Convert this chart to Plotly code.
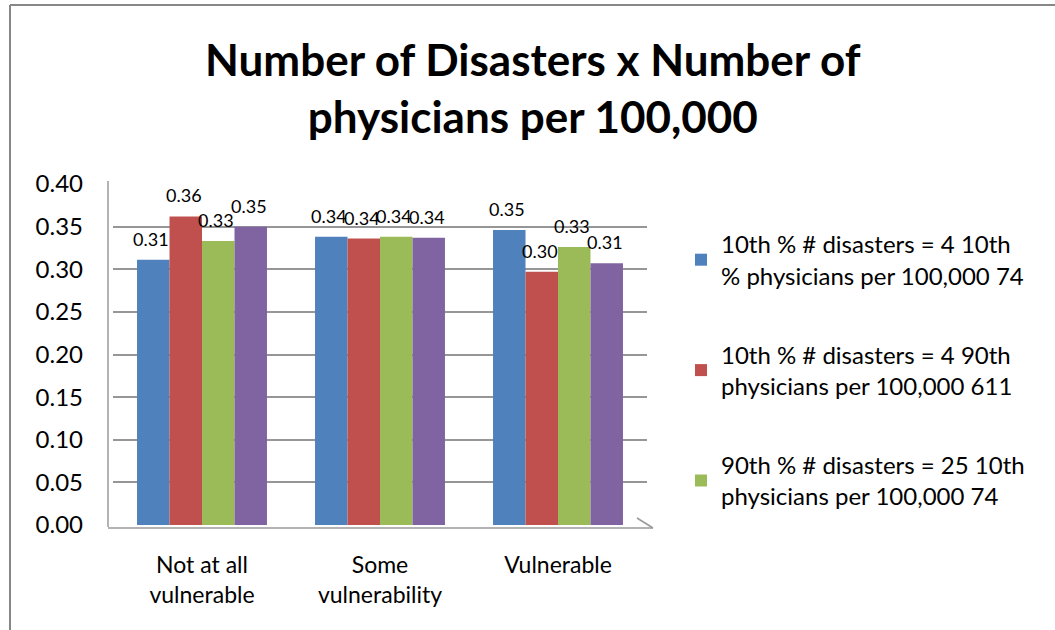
import plotly.graph_objects as go

categories = ["Not at all<br>vulnerable", "Some<br>vulnerability", "Vulnerable"]
series_names = [
    "10th % # disasters = 4 10th<br>% physicians per 100,000 74",
    "10th % # disasters = 4 90th<br>physicians per 100,000 611",
    "90th % # disasters = 25 10th<br>physicians per 100,000 74",
    "90th % # disasters = 25 90th<br>physicians per 100,000 611",
]
s1 = [0.311, 0.338, 0.346]
s2 = [0.362, 0.336, 0.297]
s3 = [0.333, 0.338, 0.326]
s4 = [0.350, 0.337, 0.307]
colors = ["#4F81BD", "#C0504D", "#9BBB59", "#8064A2"]
show_in_legend = [True, True, True, False]
y_ticks = [0.0, 0.05, 0.10, 0.15, 0.20, 0.25, 0.30, 0.35, 0.40]

FONT = "Lato, Carlito, Calibri, sans-serif"
W, H = 1055, 630
L, R, T, B = 113, 408, 184, 105
BARGAP = 0.27

fig = go.Figure()
all_series = [s1, s2, s3, s4]
for name, vals, col, sl in zip(series_names, all_series, colors, show_in_legend):
    fig.add_trace(go.Bar(
        x=categories, y=vals, name=name, marker=dict(color=col, line=dict(width=0)),
        cliponaxis=False, showlegend=sl, legendgroup=name,
    ))

pw = W - L - R
ph = H - T - B
def px_x(px):
    return (px - L) / pw
def px_y(py):
    return (H - B - py) / ph

# data labels placed above each bar (offset computed from bar width)
cat_px = pw / len(categories)
bar_px = cat_px * (1 - BARGAP) / len(all_series)
annotations = []
for i, vals in enumerate(all_series):
    for c, v in zip(categories, vals):
        annotations.append(dict(
            x=c, y=v, xref="x", yref="y", text=f"{v:.2f}", showarrow=False,
            xanchor="center", yanchor="bottom",
            xshift=(i - 1.5) * bar_px - 2, yshift=8,
            font=dict(size=18, color="black", family=FONT),
        ))

shapes = [
    dict(type="line", xref="paper", yref="paper", x0=px_x(10), x1=px_x(1056), y0=px_y(5), y1=px_y(5),
         line=dict(color="#878787", width=2)),
    dict(type="line", xref="paper", yref="paper", x0=px_x(10), x1=px_x(10), y0=px_y(5), y1=px_y(632),
         line=dict(color="#878787", width=2)),
    dict(type="line", xref="paper", yref="paper", x0=px_x(108), x1=px_x(108), y0=px_y(181), y1=px_y(527),
         line=dict(color="#9a9a9a", width=1.5), layer="below"),
    dict(type="line", xref="paper", yref="paper", x0=px_x(108), x1=px_x(653), y0=px_y(528), y1=px_y(528),
         line=dict(color="#9a9a9a", width=1.5), layer="below"),
    dict(type="line", xref="paper", yref="paper", x0=px_x(637), x1=px_x(653), y0=px_y(518), y1=px_y(528),
         line=dict(color="#9a9a9a", width=1.5), layer="below"),
]

fig.update_layout(
    width=W, height=H,
    margin=dict(l=L, r=R, t=T, b=B, pad=0),
    paper_bgcolor="white", plot_bgcolor="white",
    font=dict(family=FONT, color="black", size=22),
    title=dict(text="<b>Number of Disasters x Number of<br>physicians per 100,000</b>",
               x=0.505, xanchor="center", y=0.88, yanchor="top",
               font=dict(size=44, family=FONT, color="black")),
    barmode="group", bargap=BARGAP, bargroupgap=0,
    xaxis=dict(showgrid=False, showline=False, zeroline=False, ticks="",
               tickfont=dict(size=23), ticklabelstandoff=24),
    yaxis=dict(range=[0, 0.4], tickvals=y_ticks, tickformat=".2f",
               showgrid=True, gridcolor="#969696", gridwidth=1.5,
               zeroline=False, showline=False, ticks="", ticklabelstandoff=29,
               tickfont=dict(size=24)),
    legend=dict(x=px_x(681), y=px_y(222), xanchor="left", yanchor="top",
                font=dict(size=24, family=FONT), tracegroupgap=45,
                itemwidth=30, bgcolor="rgba(0,0,0,0)"),
    shapes=shapes,
    annotations=annotations,
)

fig.write_html("out.html", config={"displayModeBar": False},
               post_script="document.body.style.margin='0';")
